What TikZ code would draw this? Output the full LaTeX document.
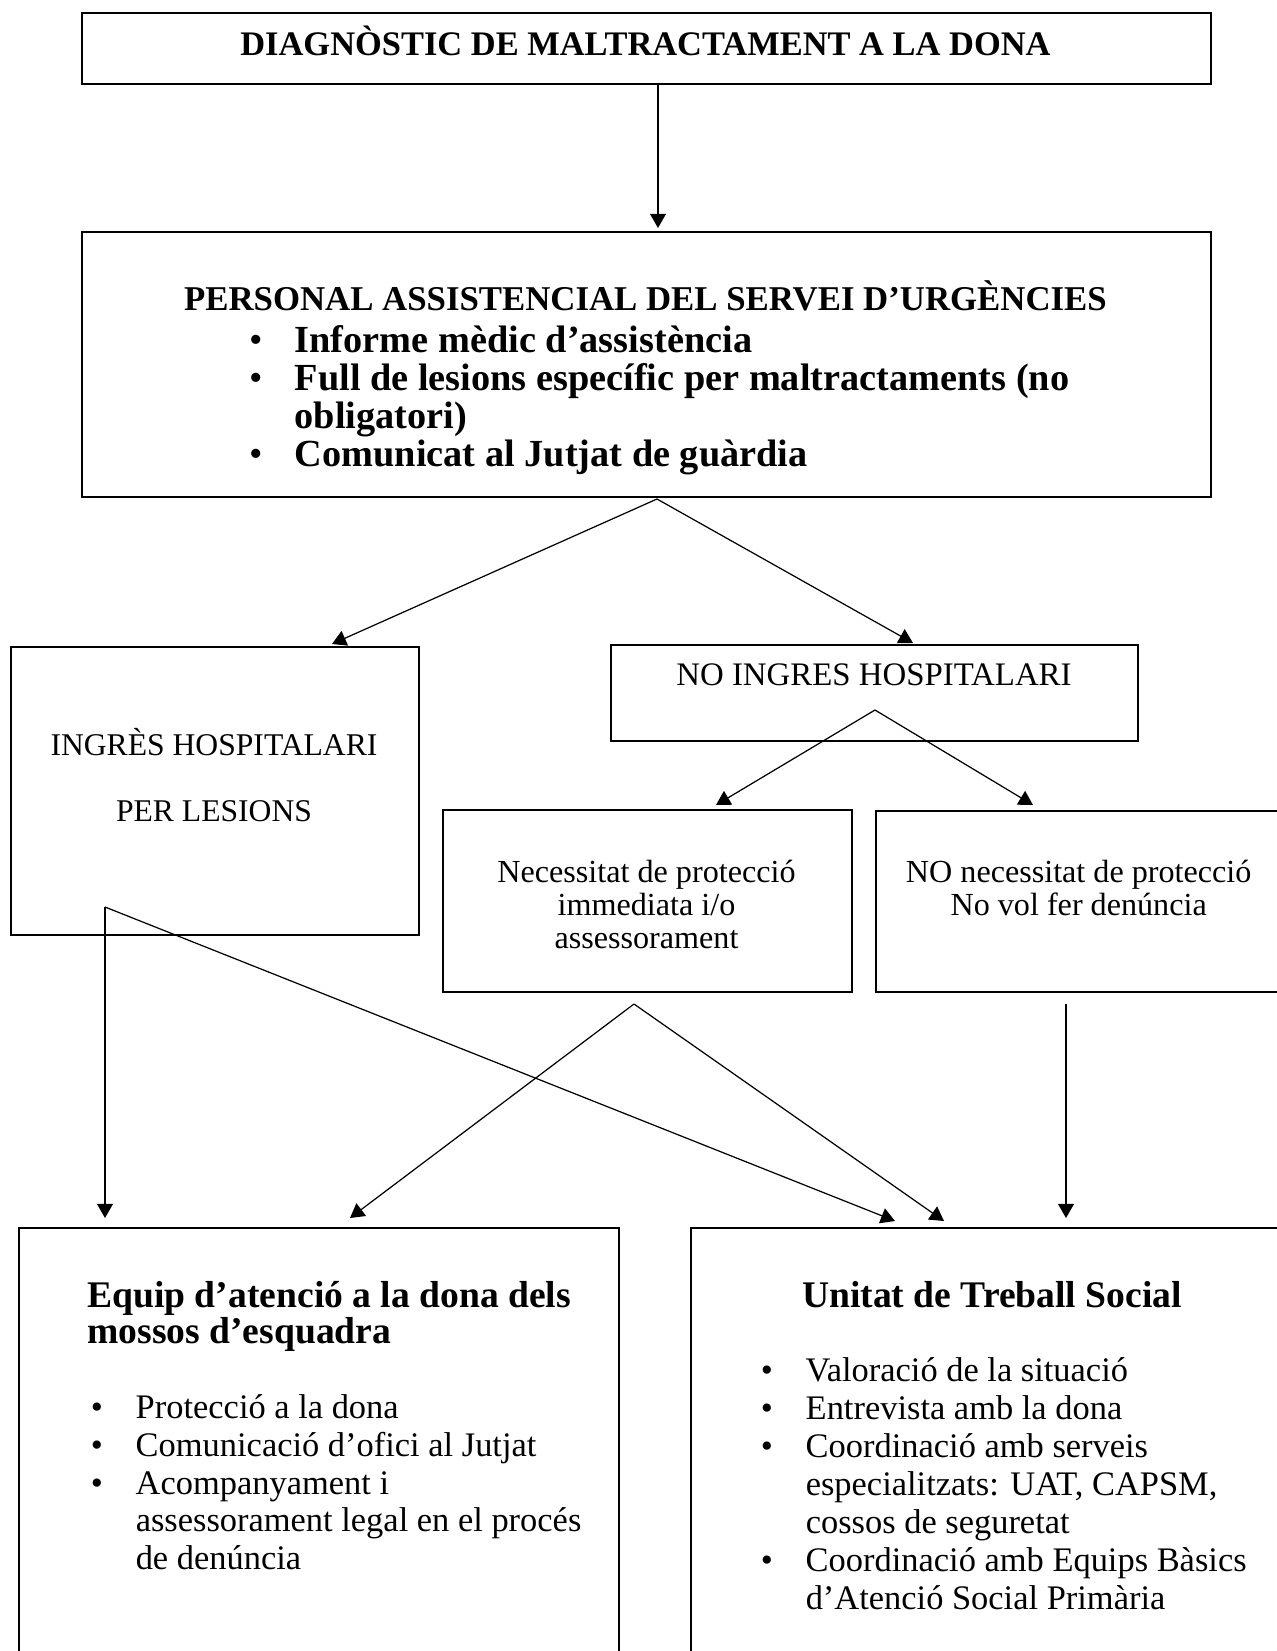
\documentclass[tikz,border=0pt]{standalone}
\usepackage{fontspec}
\setmainfont{Liberation Serif}
\usetikzlibrary{arrows.meta,calc}

\tikzset{
  box/.style={draw, line width=1.1pt, inner sep=0pt, anchor=north west},
  txt/.style={inner sep=0pt},
  conn/.style={line width=0.7pt, -{Triangle[length=8pt,width=9pt]}},
}
\newcommand{\itm}{\makebox[23pt][l]{\hspace{-2.5pt}{\mdseries\textbullet}}}
\newcommand{\cnt}{\hspace*{23pt}}

\begin{document}
\begin{tikzpicture}[x=0.02cm,y=-0.02cm]
  \useasboundingbox (0,0) rectangle (1276,1651);

  % boxes (1 unit = 1 px of the page)
  \node[box, minimum width=22.58cm, minimum height=1.43cm] (diag) at (81,12) {};
  \node[box, minimum width=22.58cm, minimum height=5.31cm] (pers) at (81,231) {};
  \node[box, minimum width=8.16cm, minimum height=5.77cm] (ingres) at (10,646) {};
  \node[box, minimum width=10.55cm, minimum height=1.92cm] (noing) at (610,644) {};
  \node[box, minimum width=8.18cm, minimum height=3.64cm] (nec) at (442,809) {};
  \node[box, minimum width=8.14cm, minimum height=3.62cm] (nonec) at (875,810) {};
  \node[box, minimum width=12cm, minimum height=10cm] (equip) at (18,1227) {};
  \node[box, minimum width=12.4cm, minimum height=10cm] (unitat) at (690,1227) {};

  % texts
  \node[txt, anchor=base, font=\fontsize{19.6}{22}\selectfont\bfseries] (diagT) at (645.5,55.5)
    {DIAGNÒSTIC DE MALTRACTAMENT A LA DONA};
  \node[txt, anchor=base, font=\fontsize{19.8}{22}\selectfont\bfseries] (persT) at (645.5,310)
    {PERSONAL ASSISTENCIAL DEL SERVEI D’URGÈNCIES};
  \node[txt, anchor=base west, font=\fontsize{21.8}{21.6}\selectfont\bfseries] (persL) at (254,352)
    {\begin{tabular}[t]{@{}l@{}}
      \itm Informe mèdic d’assistència\\
      \itm Full de lesions específic per maltractaments (no\\
      \cnt obligatori)\\
      \itm Comunicat al Jutjat de guàrdia
    \end{tabular}};

  \node[txt, anchor=base, font=\fontsize{18}{38}\selectfont] (ingresT) at (214,755)
    {\begin{tabular}[t]{@{}c@{}}INGRÈS HOSPITALARI\\PER LESIONS\end{tabular}};
  \node[txt, anchor=base, font=\fontsize{18.7}{19}\selectfont] (noingT) at (874,685)
    {NO INGRES HOSPITALARI};
  \node[txt, anchor=base, font=\fontsize{18.3}{18.9}\selectfont] (necT) at (646.5,882)
    {\begin{tabular}[t]{@{}c@{}}Necessitat de protecció\\immediata i/o\\assessorament\end{tabular}};
  \node[txt, anchor=base, font=\fontsize{18.3}{18.9}\selectfont] (nonecT) at (1078.7,882)
    {\begin{tabular}[t]{@{}c@{}}NO necessitat de protecció\\No vol fer denúncia\end{tabular}};

  \node[txt, anchor=base west, font=\fontsize{21.4}{20.4}\selectfont\bfseries] (equipT) at (87,1307)
    {\begin{tabular}[t]{@{}l@{}}Equip d’atenció a la dona dels\\mossos d’esquadra\end{tabular}};
  \node[txt, anchor=base west, font=\fontsize{19.6}{21.5}\selectfont] (equipL) at (95,1418.5)
    {\begin{tabular}[t]{@{}l@{}}
      \itm Protecció a la dona\\
      \itm Comunicació d’ofici al Jutjat\\
      \itm Acompanyament i\\
      \cnt assessorament legal en el procés\\
      \cnt de denúncia
    \end{tabular}};

  \node[txt, anchor=base, font=\fontsize{21.4}{22}\selectfont\bfseries] (unitatT) at (992,1307)
    {Unitat de Treball Social};
  \node[txt, anchor=base west, font=\fontsize{19.6}{21.7}\selectfont] (unitatL) at (765,1381)
    {\begin{tabular}[t]{@{}l@{}}
      \itm Valoració de la situació\\
      \itm Entrevista amb la dona\\
      \itm Coordinació amb serveis\\
      \cnt especialitzats: UAT, CAPSM,\\
      \cnt cossos de seguretat\\
      \itm Coordinació amb Equips Bàsics\\
      \cnt d’Atenció Social Primària
    \end{tabular}};

  % fork points under the boxes
  \coordinate (f1) at (657,499);
  \coordinate (f2) at (875,710);
  \coordinate (f3) at (634,1004);
  \coordinate (f4) at (105,907);
  \coordinate (f5) at (1066,1004);

  % connectors
  \draw[conn] ($(diag.south west)+(577,0)$) -- ($(pers.north west)+(577,-3)$);
  \draw[conn] (f1) -- ($(ingres.north west)+(322,-2)$);
  \draw[conn] (f1) -- ($(noing.north west)+(303,-1)$);
  \draw[conn] (f2) -- ($(nec.north west)+(274,-4)$);
  \draw[conn] (f2) -- ($(nonec.north west)+(158,-5)$);
  \draw[conn] (f4) -- ($(equip.north west)+(87,-9)$);
  \draw[conn] (f3) -- ($(equip.north west)+(332,-9)$);
  \draw[conn] (f4) -- ($(unitat.north west)+(205,-6)$);
  \draw[conn] (f3) -- ($(unitat.north west)+(254,-6)$);
  \draw[conn] (f5) -- ($(unitat.north west)+(376,-9)$);
\end{tikzpicture}
\end{document}
